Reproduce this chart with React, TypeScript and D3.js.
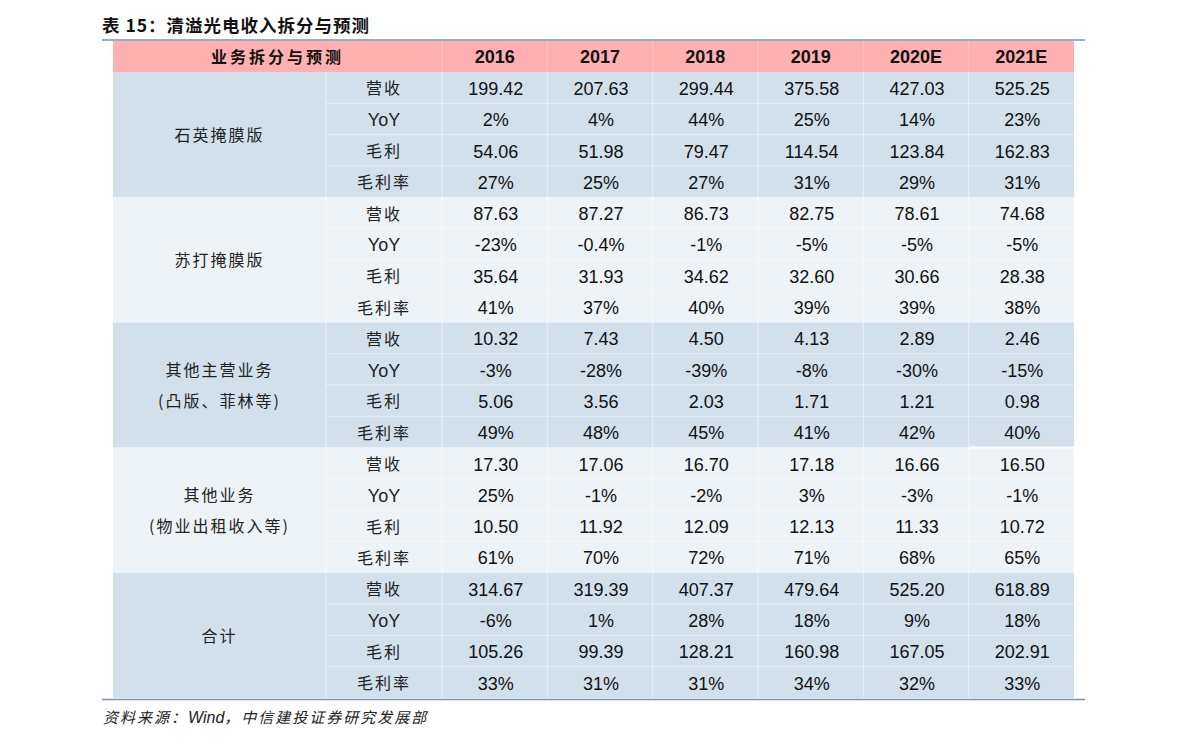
import * as d3 from 'd3'

const years = ['2016', '2017', '2018', '2019', '2020E', '2021E']
const groups = ['石英掩膜版', '苏打掩膜版', '其他主营业务\n(凸版、菲林等)', '其他业务\n(物业出租收入等)', '合计']
const metrics = ['营收', 'YoY', '毛利', '毛利率']

const quartz = [
  ['199.42', '207.63', '299.44', '375.58', '427.03', '525.25'],
  ['2%', '4%', '44%', '25%', '14%', '23%'],
  ['54.06', '51.98', '79.47', '114.54', '123.84', '162.83'],
  ['27%', '25%', '27%', '31%', '29%', '31%'],
]
const soda = [
  ['87.63', '87.27', '86.73', '82.75', '78.61', '74.68'],
  ['-23%', '-0.4%', '-1%', '-5%', '-5%', '-5%'],
  ['35.64', '31.93', '34.62', '32.60', '30.66', '28.38'],
  ['41%', '37%', '40%', '39%', '39%', '38%'],
]
const otherMain = [
  ['10.32', '7.43', '4.50', '4.13', '2.89', '2.46'],
  ['-3%', '-28%', '-39%', '-8%', '-30%', '-15%'],
  ['5.06', '3.56', '2.03', '1.71', '1.21', '0.98'],
  ['49%', '48%', '45%', '41%', '42%', '40%'],
]
const otherBiz = [
  ['17.30', '17.06', '16.70', '17.18', '16.66', '16.50'],
  ['25%', '-1%', '-2%', '3%', '-3%', '-1%'],
  ['10.50', '11.92', '12.09', '12.13', '11.33', '10.72'],
  ['61%', '70%', '72%', '71%', '68%', '65%'],
]
const total = [
  ['314.67', '319.39', '407.37', '479.64', '525.20', '618.89'],
  ['-6%', '1%', '28%', '18%', '9%', '18%'],
  ['105.26', '99.39', '128.21', '160.98', '167.05', '202.91'],
  ['33%', '31%', '31%', '34%', '32%', '33%'],
]
const groupValues = [quartz, soda, otherMain, otherBiz, total]

const title = '表 15：清溢光电收入拆分与预测'
const headLabel = '业务拆分与预测'

const W = 1191
const H = 744
const left = 113
const subLeft = 326
const yearLeft = 442
const right = 1074
const headTop = 41
const headBottom = 72
const bodyBottom = 698

const NUM = '"Liberation Sans", Arial, sans-serif'
const CJK = '"Noto Sans CJK SC", "Noto Sans CJK JP", sans-serif'

export default function App() {
  const rowKeys = d3.range(groups.length * metrics.length)
  const y = d3.scaleBand<number>().domain(rowKeys).range([headBottom, bodyBottom])
  const x = d3.scaleBand<string>().domain(years).range([yearLeft, right])
  const groupFill = (gi: number) => (gi % 2 === 0 ? '#d2e0ec' : '#eef3f7')
  const subMid = (subLeft + yearLeft) / 2

  return (
    <svg width={W} height={H} style={{ position: 'absolute', left: 0, top: 0 }}>
      <rect width={W} height={H} fill="#fff" />
      <text x={102} y={32} fontFamily={CJK} fontWeight={700} fontSize={17.5} letterSpacing={1} fill="#111">
        {title}
      </text>
      <line x1={102} x2={1085} y1={40} y2={40} stroke="#7496b8" strokeWidth={1.5} />

      {/* header */}
      <rect x={left} y={headTop} width={right - left} height={headBottom - headTop} fill="#ffb0b0" />
      <text x={(left + yearLeft) / 2} y={(headTop + headBottom) / 2 + 2} textAnchor="middle" dominantBaseline="middle"
        fontFamily={CJK} fontWeight={700} fontSize={16} letterSpacing={3} fill="#111">
        {headLabel}
      </text>
      {years.map((yr) => (
        <g key={yr}>
          <line x1={x(yr)!} x2={x(yr)!} y1={headTop} y2={headBottom} stroke="#ffc4c4" strokeWidth={1} />
          <text x={x(yr)! + x.bandwidth() / 2} y={(headTop + headBottom) / 2 + 2} textAnchor="middle"
            dominantBaseline="middle" fontFamily={NUM} fontWeight={700} fontSize={18} fill="#111">
            {yr}
          </text>
        </g>
      ))}

      {/* body */}
      {groups.map((g, gi) => {
        const top = y(gi * 4)!
        const bottom = y(gi * 4 + 3)! + y.bandwidth()
        const lines = g.split('\n')
        const mid = (top + bottom) / 2
        return (
          <g key={g}>
            <rect x={left} y={top} width={right - left} height={bottom - top} fill={groupFill(gi)} />
            {lines.map((ln, li) => (
              <text key={ln} x={(left + subLeft) / 2} y={mid + (li - (lines.length - 1) / 2) * 31 + 2}
                textAnchor="middle" dominantBaseline="middle" fontFamily={CJK} fontSize={16} letterSpacing={2} fill="#222">
                {ln}
              </text>
            ))}
            {metrics.map((m, mi) => {
              const r = gi * 4 + mi
              const cy = y(r)! + y.bandwidth() / 2 + 2.5
              return (
                <g key={m}>
                  {mi > 0 && (
                    <line x1={subLeft} x2={right} y1={y(r)!} y2={y(r)!} stroke="#fff" strokeOpacity={0.45} />
                  )}
                  <text x={subMid} y={cy} textAnchor="middle" dominantBaseline="middle"
                    fontFamily={m === 'YoY' ? NUM : CJK} fontSize={m === 'YoY' ? 18 : 16}
                    letterSpacing={m === 'YoY' ? 0 : 2} fill="#222">
                    {m}
                  </text>
                  {years.map((yr, yi) => (
                    <text key={yr} x={x(yr)! + x.bandwidth() / 2 + 1} y={cy} textAnchor="middle" dominantBaseline="middle"
                      fontFamily={NUM} fontSize={18} fill="#111">
                      {groupValues[gi][mi][yi]}
                    </text>
                  ))}
                </g>
              )
            })}
            <line x1={subLeft} x2={subLeft} y1={top} y2={bottom} stroke="#fff" strokeOpacity={0.5} />
            {years.map((yr) => (
              <line key={yr} x1={x(yr)!} x2={x(yr)!} y1={top} y2={bottom} stroke="#fff" strokeOpacity={0.5} />
            ))}
          </g>
        )
      })}
      <line x1={x('2021E')!} x2={right} y1={y(12)!} y2={y(12)!} stroke="#fff" strokeWidth={2} />

      <line x1={102} x2={1085} y1={699.5} y2={699.5} stroke="#7496b8" strokeWidth={1.5} />
      <text x={103} y={723} fontFamily={CJK} fontStyle="italic" fontSize={15} letterSpacing={2} fill="#222">
        资料来源：<tspan fontFamily={NUM} fontSize={16} letterSpacing={0}>Wind</tspan>，中信建投证券研究发展部
      </text>
    </svg>
  )
}
